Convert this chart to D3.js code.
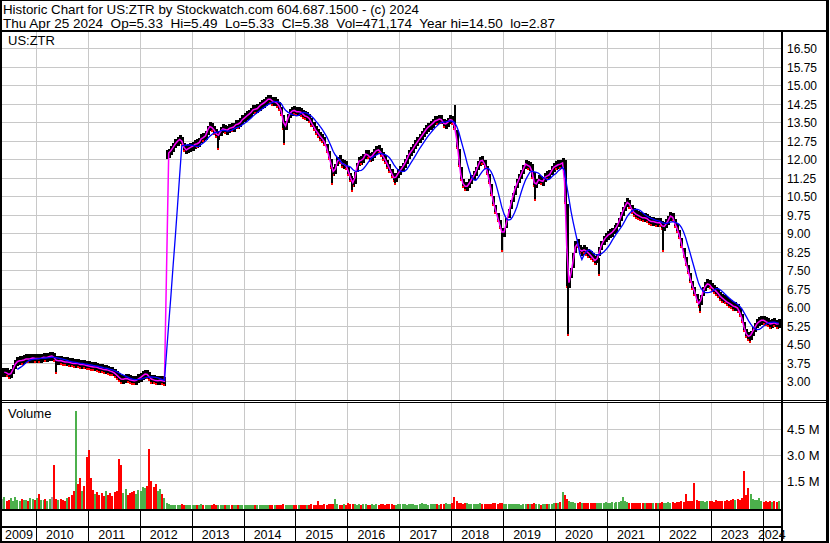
<!DOCTYPE html>
<html>
<head>
<meta charset="utf-8">
<script src="https://cdn.jsdelivr.net/npm/d3@7"></script>
<style>
body { margin: 0; background: #fff; }
svg { display: block; font-family: "Liberation Sans", Arial, sans-serif; }
</style>
</head>
<body>
<svg id="chart" width="830" height="543"></svg>
<script>
// half-month closes (8th and 23rd of each month)
var c2009 = [3.36, 3.40, 3.30, 3.28, 3.35, 3.62, 3.78, 3.82, 3.86, 3.84, 3.90, 3.93, 3.90, 3.94, 3.96, 3.92];
var c2010 = [3.95, 3.92, 3.97, 3.99, 3.96, 4.00, 4.02, 4.03, 3.90, 3.82, 3.86, 3.84, 3.80, 3.78, 3.80, 3.76, 3.74, 3.72, 3.75, 3.70, 3.68, 3.70, 3.66, 3.64];
var c2011 = [3.62, 3.60, 3.58, 3.60, 3.55, 3.52, 3.50, 3.46, 3.48, 3.44, 3.40, 3.38, 3.30, 3.22, 3.12, 3.08, 3.10, 3.14, 3.08, 3.06, 3.04, 3.02, 3.08, 3.14];
var c2012 = [3.20, 3.28, 3.32, 3.25, 3.12, 3.08, 3.05, 3.02, 3.04, 3.06, 3.00, 3.02, 12.20, 12.30, 12.40, 12.55, 12.70, 12.75, 12.85, 12.60, 12.35, 12.40, 12.45, 12.50];
var c2013 = [12.55, 12.65, 12.60, 12.75, 12.90, 12.85, 13.05, 13.30, 13.35, 13.20, 13.15, 12.90, 13.05, 13.20, 13.25, 13.15, 13.20, 13.30, 13.25, 13.35, 13.45, 13.40, 13.55, 13.65];
var c2014 = [13.70, 13.80, 13.85, 13.95, 14.05, 14.00, 14.10, 14.20, 14.25, 14.30, 14.40, 14.45, 14.40, 14.30, 14.35, 14.20, 14.10, 13.80, 13.20, 13.50, 13.80, 13.90, 14.00, 13.95];
var c2015 = [13.90, 13.95, 13.85, 13.80, 13.70, 13.75, 13.55, 13.40, 13.25, 13.10, 13.00, 12.85, 12.80, 12.60, 12.30, 12.00, 11.60, 11.40, 11.80, 12.05, 11.90, 11.75, 11.85, 11.60];
var c2016 = [11.40, 11.10, 11.00, 11.50, 11.85, 12.00, 11.90, 12.15, 12.25, 12.10, 12.05, 12.20, 12.30, 12.40, 12.35, 12.20, 12.05, 11.90, 11.70, 11.55, 11.30, 11.20, 11.35, 11.50];
var c2017 = [11.60, 11.75, 11.90, 12.10, 12.25, 12.35, 12.50, 12.65, 12.75, 12.90, 13.00, 13.15, 13.25, 13.35, 13.40, 13.50, 13.60, 13.55, 13.70, 13.50, 13.40, 13.45, 13.55, 13.65];
var c2018 = [13.50, 13.20, 12.40, 11.70, 11.10, 10.95, 10.85, 10.95, 11.10, 11.25, 11.40, 11.60, 11.85, 12.00, 11.90, 11.70, 11.40, 11.00, 10.50, 10.10, 9.80, 9.50, 9.20, 8.90];
var c2019 = [9.20, 9.60, 10.00, 10.30, 10.60, 10.90, 11.10, 11.30, 11.50, 11.70, 11.90, 11.60, 11.80, 11.20, 10.90, 11.10, 11.25, 11.00, 11.20, 11.35, 11.30, 11.45, 11.60, 11.75];
var c2020 = [11.70, 11.85, 11.75, 11.95, 10.20, 6.80, 7.20, 7.60, 8.20, 8.70, 8.45, 8.20, 8.35, 8.30, 8.25, 8.15, 8.05, 7.95, 7.85, 8.10, 8.40, 8.65, 8.75, 8.90];
var c2021 = [8.95, 9.00, 9.10, 9.20, 9.30, 9.55, 9.80, 10.00, 10.20, 10.30, 10.05, 9.90, 9.80, 9.75, 9.70, 9.65, 9.60, 9.65, 9.55, 9.50, 9.45, 9.50, 9.40, 9.45];
var c2022 = [9.40, 9.20, 9.35, 9.45, 9.60, 9.80, 9.50, 9.30, 9.10, 8.80, 8.40, 8.00, 7.70, 7.40, 7.00, 6.80, 6.50, 6.20, 6.10, 6.50, 6.80, 6.90, 7.00, 6.85];
var c2023 = [6.75, 6.70, 6.60, 6.50, 6.40, 6.35, 6.25, 6.20, 6.15, 6.10, 6.00, 6.05, 5.90, 5.70, 5.40, 5.00, 4.85, 4.80, 4.95, 5.10, 5.30, 5.40, 5.45, 5.50];
var c2024 = [5.45, 5.40, 5.35, 5.30, 5.40, 5.35, 5.30, 5.38];

// half-month volume, thousands of shares
var v2009 = [420, 560, 300, 380, 460, 330, 520, 400, 310, 440, 380, 350, 300, 480, 420, 390];
var v2010 = [460, 720, 380, 350, 420, 330, 450, 520, 2380, 450, 380, 430, 350, 320, 480, 520, 650, 900, 5560, 1300, 1650, 900, 1200, 2850];
var v2011 = [3250, 1650, 950, 700, 820, 650, 780, 600, 900, 680, 760, 620, 820, 900, 2760, 2400, 800, 1000, 650, 750, 820, 900, 700, 950];
var v2012 = [900, 1100, 1050, 1200, 3350, 1500, 1100, 1300, 900, 1000, 700, 500, 180, 120, 90, 110, 80, 100, 70, 120, 90, 100, 80, 110];
var v2013 = [80, 100, 70, 90, 120, 80, 100, 70, 90, 110, 160, 80, 90, 70, 100, 80, 90, 110, 70, 80, 100, 90, 80, 70];
var v2014 = [90, 80, 70, 100, 80, 70, 90, 110, 80, 70, 60, 80, 70, 90, 80, 100, 70, 90, 130, 80, 70, 90, 80, 100];
var v2015 = [100, 90, 80, 110, 90, 100, 80, 120, 100, 90, 310, 110, 100, 120, 90, 130, 160, 140, 430, 120, 100, 110, 130, 100];
var v2016 = [220, 160, 130, 120, 110, 130, 100, 120, 140, 110, 100, 130, 110, 120, 100, 140, 120, 110, 130, 150, 120, 110, 100, 130];
var v2017 = [120, 140, 130, 110, 160, 120, 130, 110, 100, 150, 170, 130, 120, 110, 140, 130, 160, 120, 110, 130, 150, 180, 140, 120];
var v2018 = [190, 550, 300, 220, 190, 160, 220, 170, 140, 150, 130, 160, 140, 170, 130, 150, 120, 160, 140, 170, 190, 160, 220, 180];
var v2019 = [160, 140, 130, 120, 150, 130, 140, 120, 110, 130, 150, 120, 130, 140, 180, 130, 120, 110, 130, 140, 120, 150, 160, 170];
var v2020 = [190, 220, 240, 840, 660, 450, 320, 280, 240, 220, 190, 240, 210, 180, 200, 170, 190, 210, 180, 200, 220, 190, 210, 240];
var v2021 = [220, 200, 240, 210, 230, 260, 290, 560, 320, 260, 220, 200, 190, 210, 180, 200, 190, 170, 180, 200, 190, 170, 210, 200];
var v2022 = [220, 260, 200, 190, 230, 210, 240, 220, 250, 270, 290, 260, 720, 320, 290, 310, 1380, 370, 320, 290, 310, 270, 320, 290];
var v2023 = [320, 280, 360, 300, 340, 290, 320, 390, 300, 350, 410, 360, 430, 390, 460, 2050, 660, 1070, 740, 430, 390, 360, 490, 320];
var v2024 = [270, 310, 240, 300, 280, 320, 260, 300];

// single-day spikes: date, low, high
var wicks = [
  ["2010-05-14", 3.35, 3.95], ["2011-08-13", 2.92, 3.20], ["2012-06-11", 2.87, 3.05],
  ["2013-07-01", 12.40, 13.10], ["2014-10-08", 12.60, 13.60], ["2015-09-10", 11.00, 11.80],
  ["2016-01-29", 10.70, 11.30], ["2016-11-26", 11.00, 11.40], ["2018-01-21", 13.30, 14.20],
  ["2018-12-17", 8.30, 9.10], ["2019-08-03", 10.35, 11.50], ["2020-03-23", 4.90, 9.00],
  ["2020-10-30", 7.30, 8.00], ["2022-01-22", 8.30, 9.30], ["2022-10-08", 5.80, 6.30],
  ["2023-09-24", 4.60, 5.00]
];

var priceTicks = [3.00, 3.75, 4.50, 5.25, 6.00, 6.75, 7.50, 8.25, 9.00, 9.75, 10.50, 11.25, 12.00, 12.75, 13.50, 14.25, 15.00, 15.75, 16.50];
var volTicks = [1.5, 3.0, 4.5];
var volTickLabels = ["1.5 M", "3.0 M", "4.5 M"];
var years = [2009, 2010, 2011, 2012, 2013, 2014, 2015, 2016, 2017, 2018, 2019, 2020, 2021, 2022, 2023, 2024];

var title1 = "Historic Chart for US:ZTR by Stockwatch.com 604.687.1500 - (c) 2024";
var title2 = "Thu Apr 25 2024  Op=5.33  Hi=5.49  Lo=5.33  Cl=5.38  Vol=471,174  Year hi=14.50  lo=2.87";

var byYear = [
  [2009, c2009, v2009], [2010, c2010, v2010], [2011, c2011, v2011], [2012, c2012, v2012],
  [2013, c2013, v2013], [2014, c2014, v2014], [2015, c2015, v2015], [2016, c2016, v2016],
  [2017, c2017, v2017], [2018, c2018, v2018], [2019, c2019, v2019], [2020, c2020, v2020],
  [2021, c2021, v2021], [2022, c2022, v2022], [2023, c2023, v2023], [2024, c2024, v2024]
];

var series = [];
byYear.forEach(function (row) {
  var yr = row[0], k0 = yr === 2009 ? 8 : 0;
  row[1].forEach(function (c, j) {
    var k = k0 + j;
    series.push({ date: new Date(yr, Math.floor(k / 2), k % 2 ? 23 : 8), close: c, vol: row[2][j] / 1000 });
  });
});

function movingAvg(n) {
  var out = [];
  for (var i = n - 1; i < series.length; i++) {
    var s = 0;
    for (var j = i - n + 1; j <= i; j++) s += series[j].close;
    out.push({ date: series[i].date, value: s / n });
  }
  return out;
}

var left = 2, right = 781;
var priceTop = 32, priceBot = 400, volTop = 403, volBot = 509;

var svg = d3.select("#chart");
svg.append("rect").attr("width", 830).attr("height", 543).attr("fill", "#fff");

var x = d3.scaleTime().domain([new Date(2009, 4, 7), new Date(2024, 4, 9)]).range([left, right]);
var y = d3.scaleLinear().domain([2.25, 17.15]).range([priceBot, priceTop]);
var yv = d3.scaleLinear().domain([-0.15, 6.0]).range([volBot, volTop]);

var yearStarts = years.slice(1).map(function (yr) { return new Date(yr, 0, 1); });

// grid
var grid = svg.append("g").attr("stroke", "#c8c8c8").attr("stroke-width", 1).attr("shape-rendering", "crispEdges");
yearStarts.forEach(function (d) {
  var gx = Math.round(x(d)) + 0.5;
  grid.append("line").attr("x1", gx).attr("x2", gx).attr("y1", priceTop).attr("y2", priceBot);
  grid.append("line").attr("x1", gx).attr("x2", gx).attr("y1", volTop).attr("y2", volBot);
});
priceTicks.forEach(function (t) {
  var gy = Math.round(y(t)) + 0.5;
  grid.append("line").attr("x1", left).attr("x2", right).attr("y1", gy).attr("y2", gy);
});
volTicks.forEach(function (t) {
  var gy = Math.round(yv(t)) + 0.5;
  grid.append("line").attr("x1", left).attr("x2", right).attr("y1", gy).attr("y2", gy);
});

// price bars
var bars = svg.append("g").attr("shape-rendering", "crispEdges");
series.forEach(function (d, i) {
  var prev = i ? series[i - 1].close : d.close;
  if (Math.abs(d.close - prev) / prev > 1) prev = d.close; // split gap, no bar across it
  var y1 = y(Math.max(prev, d.close)), y2 = y(Math.min(prev, d.close));
  if (y2 - y1 < 9) { var m = (y1 + y2) / 2; y1 = m - 4.5; y2 = m + 4.5; }
  var bx = Math.round(x(d.date)) - 1;
  bars.append("rect").attr("x", bx).attr("y", y1).attr("width", 3).attr("height", y2 - y1).attr("fill", "#000");
  if (d.close < prev) {
    bars.append("rect").attr("x", bx).attr("y", y2 - 2).attr("width", 2).attr("height", 2).attr("fill", "#ff0000");
  }
});
wicks.forEach(function (w) {
  var wx = Math.round(x(d3.timeParse("%Y-%m-%d")(w[0])));
  bars.append("rect").attr("x", wx).attr("y", y(w[2])).attr("width", 2).attr("height", y(w[1]) - y(w[2])).attr("fill", "#000");
  bars.append("rect").attr("x", wx).attr("y", y(w[1]) - 1).attr("width", 2).attr("height", 2).attr("fill", "#ff0000");
});

// moving averages
var line = d3.line().x(function (d) { return x(d.date); }).y(function (d) { return y(d.value); });
svg.append("path").datum(movingAvg(2)).attr("d", line)
  .attr("fill", "none").attr("stroke", "#ff00ff").attr("stroke-width", 1.5);
svg.append("path").datum(movingAvg(8)).attr("d", line)
  .attr("fill", "none").attr("stroke", "#0000ff").attr("stroke-width", 1.3);

// volume
var vol = svg.append("g").attr("shape-rendering", "crispEdges");
series.forEach(function (d, i) {
  var prev = i ? series[i - 1].close : d.close;
  var diff = d.close - prev;
  var col = Math.abs(diff) < 0.015 ? "#a0a0a0" : (diff > 0 ? "#4cb04c" : "#ff0000");
  vol.append("rect").attr("x", Math.round(x(d.date)) - 1).attr("y", yv(d.vol))
    .attr("width", 2).attr("height", volBot - yv(d.vol)).attr("fill", col);
});

// frame
var frame = svg.append("g").attr("fill", "#000").attr("shape-rendering", "crispEdges");
frame.append("rect").attr("x", 0).attr("y", 0).attr("width", 829).attr("height", 1);
frame.append("rect").attr("x", 0).attr("y", 30).attr("width", 829).attr("height", 2);
frame.append("rect").attr("x", 0).attr("y", 0).attr("width", 2).attr("height", 543);
frame.append("rect").attr("x", 826).attr("y", 0).attr("width", 3).attr("height", 543);
frame.append("rect").attr("x", right).attr("y", 30).attr("width", 2).attr("height", 513);
frame.append("rect").attr("x", 0).attr("y", 400).attr("width", 829).attr("height", 1);
frame.append("rect").attr("x", 0).attr("y", 402).attr("width", 829).attr("height", 1);
frame.append("rect").attr("x", 0).attr("y", volBot).attr("width", right + 2).attr("height", 2);
frame.append("rect").attr("x", 0).attr("y", 526).attr("width", right + 2).attr("height", 2);
frame.append("rect").attr("x", 0).attr("y", 541).attr("width", 829).attr("height", 2);
yearStarts.forEach(function (d) {
  frame.append("rect").attr("x", Math.round(x(d))).attr("y", volBot).attr("width", 1).attr("height", 32);
});

// text
svg.append("text").attr("x", 3).attr("y", 13.5).attr("font-size", 13)
  .attr("textLength", 416).attr("lengthAdjust", "spacingAndGlyphs").text(title1);
svg.append("text").attr("x", 3).attr("y", 28).attr("font-size", 13).style("white-space", "pre")
  .attr("textLength", 552).attr("lengthAdjust", "spacingAndGlyphs").text(title2);
svg.append("text").attr("x", 8).attr("y", 45).attr("font-size", 13).text("US:ZTR");
svg.append("text").attr("x", 8).attr("y", 417.5).attr("font-size", 13).text("Volume");

priceTicks.forEach(function (t) {
  svg.append("text").attr("x", 787).attr("y", Math.round(y(t)) + 5).attr("font-size", 12).text(t.toFixed(2));
});
volTicks.forEach(function (t, i) {
  svg.append("text").attr("x", 787).attr("y", Math.round(yv(t)) + 5).attr("font-size", 13).text(volTickLabels[i]);
});

years.forEach(function (yr) {
  var a = Math.max(x(new Date(yr, 0, 1)), left), b = Math.min(x(new Date(yr + 1, 0, 1)), right);
  var cx = (b - a) > 40 ? (a + b) / 2 - 2 : (a + b) / 2;
  svg.append("text").attr("x", cx).attr("y", 539).attr("font-size", 12.5)
    .attr("text-anchor", "middle").text(String(yr));
});
</script>
</body>
</html>
